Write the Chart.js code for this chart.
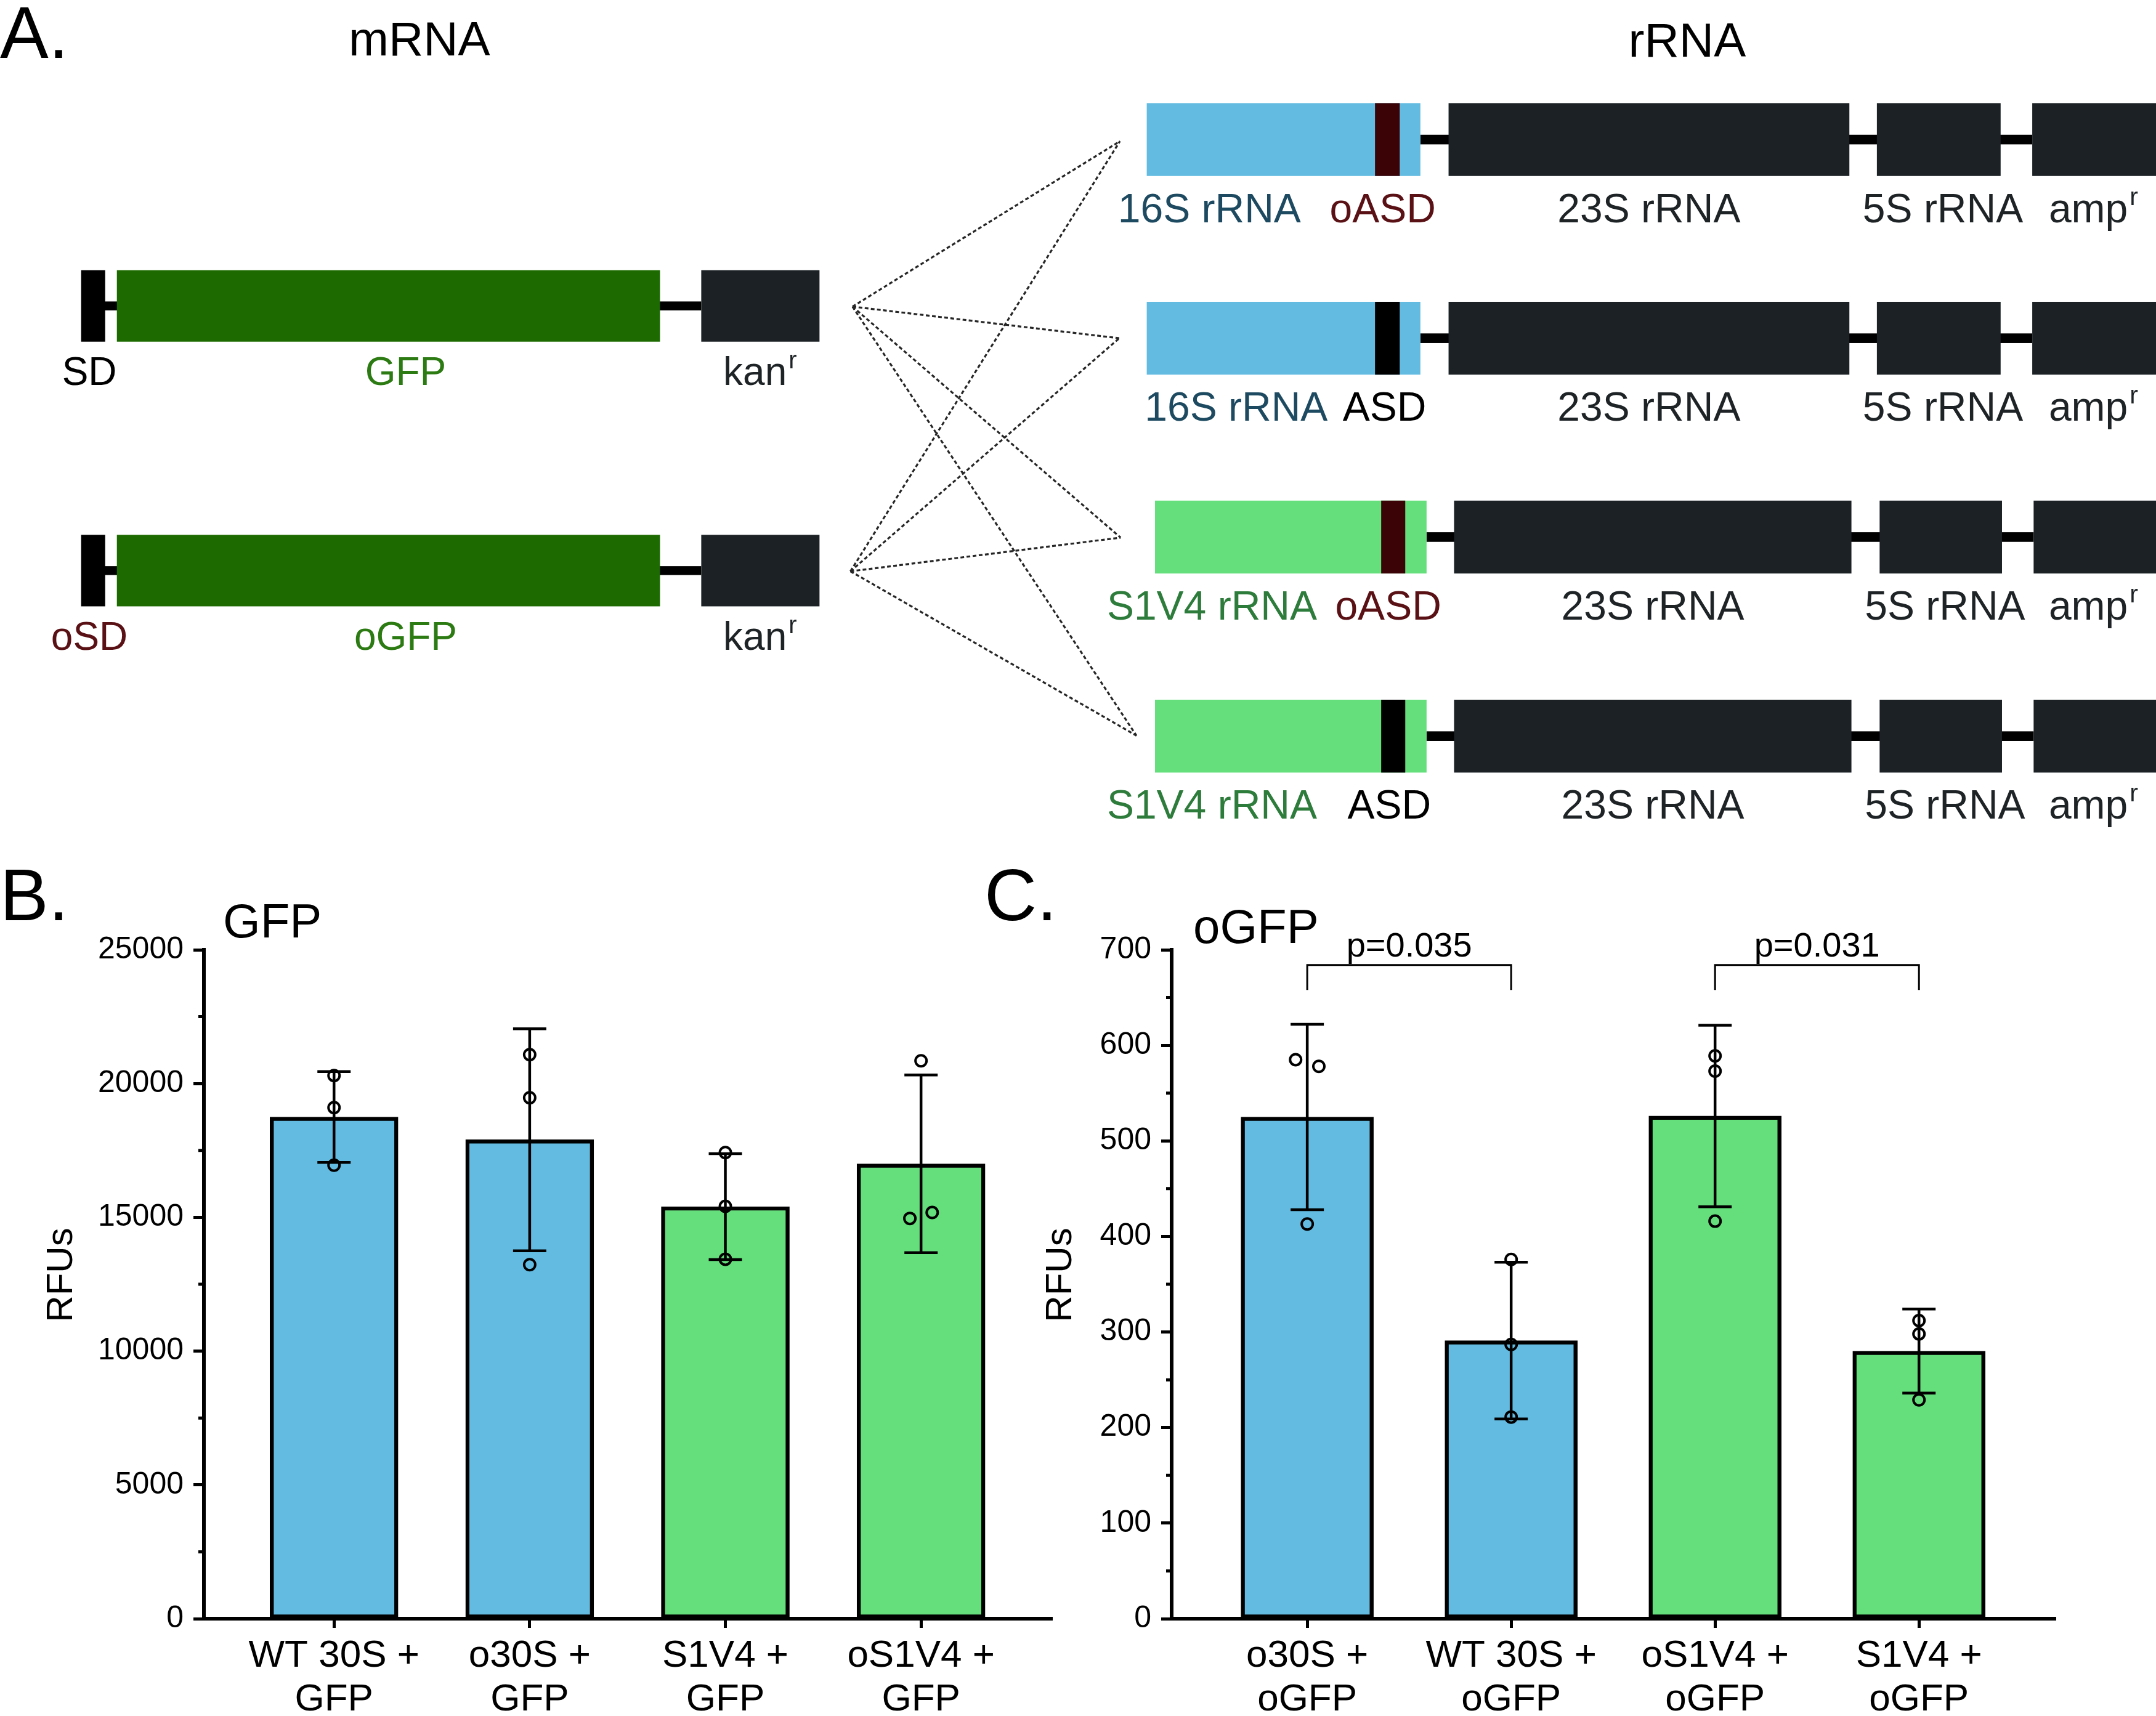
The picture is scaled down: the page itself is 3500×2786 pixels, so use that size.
<!DOCTYPE html>
<html>
<head>
<meta charset="utf-8">
<script src="https://cdn.jsdelivr.net/npm/chart.js@4.4.1/dist/chart.umd.min.js"></script>
<style>
	body { margin: 0; background: #fff; }
	#page { position: relative; width: 3500px; height: 2786px; overflow: hidden; background: #fff; }
	canvas { position: absolute; }
</style>
</head>
<body>
<div id="page">
	<canvas id="panelA" width="3500" height="1380" style="left:0px;top:0px"></canvas>
	<canvas id="panelB" width="1750" height="1406" style="left:0px;top:1380px"></canvas>
	<canvas id="panelC" width="1920" height="1406" style="left:1580px;top:1380px"></canvas>
</div>
<script>
const FONT = '"Liberation Sans", Arial, Helvetica, sans-serif';
const BLUE = "#63bbe1";
const GREEN = "#65df7b";
const DARK = "#1b2124";
const LABEL = "#1e2326";
const OXBLOOD = "#5a1115";

// panel A - constructs (diagram units = shrunk figure pixels)
const mrnaY = [222.5, 415];
const mrnaSD = ["SD", "oSD"];
const mrnaSDColor = ["#000000", OXBLOOD];
const mrnaGene = ["GFP", "oGFP"];
const mrnaHub = [[620, 223], [618.5, 415.5]];

const rrnaY = [101.5, 246, 390.6, 535.4];
const rrnaName = ["16S rRNA", "16S rRNA", "S1V4 rRNA", "S1V4 rRNA"];
const rrnaNameColor = ["#1d4a60", "#1d4a60", "#2e7c3c", "#2e7c3c"];
const rrnaFill = [BLUE, BLUE, GREEN, GREEN];
const rrnaAsd = ["oASD", "ASD", "oASD", "ASD"];
const rrnaAsdColor = [OXBLOOD, "#000000", OXBLOOD, "#000000"];
const rrnaBandColor = ["#3c0307", "#000000", "#3c0307", "#000000"];
const rrnaEnd = [[814.5, 102.7], [814, 246], [815, 391], [826.5, 535]];
const rrnaBody = [[834, 1033], [834, 1033], [840, 1037.5], [840, 1037.5]];
const rrnaBand = [[1000, 1018], [1000, 1018], [1004.5, 1022], [1004.5, 1022]];
const rrna23S = [[1053.5, 1345], [1053.5, 1345], [1057.5, 1346.5], [1057.5, 1346.5]];
const rrna5S = [[1365, 1455], [1365, 1455], [1367, 1456], [1367, 1456]];
const rrnaAmp = [[1478, 1570], [1478, 1570], [1479, 1570], [1479, 1570]];
const rrnaNameX = [813, 832.5, 805, 805];
const rrnaAsdX = [967, 976.5, 971, 980];

// panel B - GFP
const categoriesB = [["WT 30S +", "GFP"], ["o30S +", "GFP"], ["S1V4 +", "GFP"], ["oS1V4 +", "GFP"]];
const meansB = [18750, 17900, 15400, 17000];
const sdB = [1700, 4150, 1980, 3320];
const pointsB = [[20300, 19100, 16950], [21080, 19470, 13230], [17420, 15410, 13435], [20850, 14960, 15180]];
const jitterB = [[0, 0, 0], [0, 0, 0], [0, 0, 0], [0, -0.057, 0.057]];
const yTicksB = [0, 5000, 10000, 15000, 20000, 25000];

// panel C - oGFP
const categoriesC = [["o30S +", "oGFP"], ["WT 30S +", "oGFP"], ["oS1V4 +", "oGFP"], ["S1V4 +", "oGFP"]];
const meansC = [525, 291, 526, 280];
const sdC = [97, 82, 95, 44];
const pointsC = [[585, 578, 413], [376, 287, 211], [589, 573, 416], [312, 298, 229]];
const jitterC = [[-0.057, 0.057, 0], [0, 0, 0], [0, 0, 0], [0, 0, 0]];
const yTicksC = [0, 100, 200, 300, 400, 500, 600, 700];
const pairsC = [[0, 1], [2, 3]];
const pLabelsC = ["p=0.035", "p=0.031"];

const barFills = [BLUE, BLUE, GREEN, GREEN];

function supText(ctx, base, sup, x, y, size, color) {
	ctx.font = size + "px " + FONT;
	ctx.fillStyle = color;
	ctx.textAlign = "left";
	ctx.fillText(base, x, y);
	const w = ctx.measureText(base).width;
	ctx.font = Math.round(size * 0.62) + "px " + FONT;
	ctx.fillText(sup, x + w + 3, y - size * 0.42);
}

const diagramPlugin = {
	id: "diagram",
	afterDatasetsDraw(chart) {
		const ctx = chart.ctx;
		const X = v => chart.scales.x.getPixelForValue(v);
		const Y = v => chart.scales.y.getPixelForValue(v);
		function box(x0, x1, yc, h, color) {
			ctx.fillStyle = color;
			ctx.fillRect(X(x0), Y(yc - h / 2), X(x1) - X(x0), Y(yc + h / 2) - Y(yc - h / 2));
		}
		function label(text, x, yb, size, color, align) {
			ctx.font = size + "px " + FONT;
			ctx.fillStyle = color;
			ctx.textAlign = align || "left";
			ctx.textBaseline = "alphabetic";
			ctx.fillText(text, X(x), Y(yb));
		}
		ctx.save();
		label("A.", 0, 42, 118, "#000");
		label("mRNA", 305, 40.5, 78, "#000", "center");
		label("rRNA", 1227, 41, 78, "#000", "center");

		mrnaY.forEach((yc, i) => {
			box(76, 510, yc, 6.5, "#000");
			box(59, 76.5, yc, 52, "#000");
			box(85, 480, yc, 52, "#1c6a00");
			box(510, 596, yc, 52, DARK);
			label(mrnaSD[i], 65, yc + 57.5, 64, mrnaSDColor[i], "center");
			label(mrnaGene[i], 295, yc + 57.5, 64, "#2b7a12", "center");
			supText(ctx, "kan", "r", X(526), Y(yc + 57.5), 64, LABEL);
		});

		rrnaY.forEach((yc, i) => {
			box(rrnaBody[i][1], rrnaAmp[i][0], yc, 7, "#000");
			box(rrnaBody[i][0], rrnaBody[i][1], yc, 53, rrnaFill[i]);
			box(rrnaBand[i][0], rrnaBand[i][1], yc, 53, rrnaBandColor[i]);
			box(rrna23S[i][0], rrna23S[i][1], yc, 53, DARK);
			box(rrna5S[i][0], rrna5S[i][1], yc, 53, DARK);
			box(rrnaAmp[i][0], rrnaAmp[i][1], yc, 53, DARK);
			const yb = yc + 60;
			label(rrnaName[i], rrnaNameX[i], yb, 66, rrnaNameColor[i]);
			label(rrnaAsd[i], rrnaAsdX[i], yb, 66, rrnaAsdColor[i]);
			label("23S rRNA", (rrna23S[i][0] + rrna23S[i][1]) / 2, yb, 66, LABEL, "center");
			label("5S rRNA", (rrna5S[i][0] + rrna5S[i][1]) / 2 + 3, yb, 66, LABEL, "center");
			supText(ctx, "amp", "r", X(1490), Y(yb), 66, LABEL);
		});
		ctx.restore();
	}
};

const hubLines = [];
mrnaHub.forEach(h => rrnaEnd.forEach(e => hubLines.push({
	data: [{ x: h[0], y: h[1] }, { x: e[0], y: e[1] }],
	showLine: true,
	borderColor: "#262626",
	borderWidth: 3.2,
	borderDash: [6, 4],
	pointRadius: 0,
	fill: false
})));

new Chart(document.getElementById("panelA"), {
	type: "scatter",
	data: { datasets: hubLines },
	options: {
		responsive: false,
		animation: false,
		devicePixelRatio: 1,
		events: [],
		layout: { padding: 0 },
		plugins: { legend: { display: false }, tooltip: { enabled: false } },
		scales: {
			x: { type: "linear", min: 0, max: 1568, display: false },
			y: { type: "linear", min: 0, max: 618.2, reverse: true, display: false }
		}
	},
	plugins: [diagramPlugin]
});

function decorPlugin(cfg) {
	return {
		id: "decor",
		afterDatasetDraw(chart, args) {
			if (args.index !== 0) return;
			const { ctx, scales: { x, y } } = chart;
			ctx.save();
			ctx.strokeStyle = "#000";
			ctx.lineWidth = 4.5;
			ctx.beginPath();
			cfg.means.forEach((m, i) => {
				const cx = x.getPixelForValue(i);
				const top = y.getPixelForValue(m + cfg.sd[i]);
				const bot = y.getPixelForValue(m - cfg.sd[i]);
				ctx.moveTo(cx, top);
				ctx.lineTo(cx, bot);
				ctx.moveTo(cx - 27, top);
				ctx.lineTo(cx + 27, top);
				ctx.moveTo(cx - 27, bot);
				ctx.lineTo(cx + 27, bot);
			});
			ctx.stroke();
			ctx.restore();
		},
		afterDraw(chart) {
			const { ctx, chartArea, scales: { x, y } } = chart;
			ctx.save();
			// minor ticks
			ctx.strokeStyle = "#000";
			ctx.lineWidth = 5;
			ctx.beginPath();
			for (let i = 0; i < cfg.yTicks.length - 1; i++) {
				const py = y.getPixelForValue((cfg.yTicks[i] + cfg.yTicks[i + 1]) / 2);
				ctx.moveTo(chartArea.left - 9, py);
				ctx.lineTo(chartArea.left, py);
			}
			ctx.stroke();

			ctx.fillStyle = "#000";
			ctx.textBaseline = "alphabetic";
			ctx.textAlign = "left";
			ctx.font = "118px " + FONT;
			ctx.fillText(cfg.letter, cfg.letterAt[0], cfg.letterAt[1]);
			ctx.font = "78px " + FONT;
			ctx.fillText(cfg.title, cfg.titleAt[0], cfg.titleAt[1]);

			ctx.save();
			ctx.translate(cfg.yTitleAt[0], cfg.yTitleAt[1]);
			ctx.rotate(-Math.PI / 2);
			ctx.textAlign = "center";
			ctx.textBaseline = "middle";
			ctx.font = "60px " + FONT;
			ctx.fillText("RFUs", 0, 0);
			ctx.restore();

			(cfg.pairs || []).forEach((pr, k) => {
				const x0 = x.getPixelForValue(pr[0]);
				const x1 = x.getPixelForValue(pr[1]);
				const yTop = y.getPixelForValue(684);
				const yLeg = y.getPixelForValue(658);
				ctx.lineWidth = 3;
				ctx.beginPath();
				ctx.moveTo(x0, yLeg);
				ctx.lineTo(x0, yTop);
				ctx.lineTo(x1, yTop);
				ctx.lineTo(x1, yLeg);
				ctx.stroke();
				ctx.font = "56px " + FONT;
				ctx.textAlign = "center";
				ctx.fillText(cfg.pLabels[k], (x0 + x1) / 2, y.getPixelForValue(693));
			});
			ctx.restore();
		}
	};
}

function barChart(id, cfg) {
	const scatter = [];
	cfg.points.forEach((row, i) => row.forEach((v, j) => scatter.push({ x: i + cfg.jitter[i][j], y: v })));
	return new Chart(document.getElementById(id), {
		type: "bar",
		data: {
			datasets: [{
				type: "bar",
				data: cfg.means.map((v, i) => ({ x: i, y: v })),
				backgroundColor: barFills,
				borderColor: "#000",
				borderWidth: 6.5,
				borderSkipped: false,
				barThickness: cfg.barWidth,
				order: 2
			}, {
				type: "scatter",
				data: scatter,
				pointRadius: 9,
				pointBorderWidth: 4,
				pointBorderColor: "#000",
				pointBackgroundColor: "rgba(0,0,0,0)",
				order: 1
			}]
		},
		options: {
			responsive: false,
			animation: false,
			devicePixelRatio: 1,
			events: [],
			layout: { padding: { left: 0, top: 162, right: cfg.padRight, bottom: 0 } },
			plugins: { legend: { display: false }, tooltip: { enabled: false } },
			scales: {
				x: {
					type: "linear",
					min: -0.665,
					max: 3.67,
					offset: false,
					afterBuildTicks: s => { s.ticks = cfg.categories.map((c, i) => ({ value: i })); },
					afterFit: s => { s.height = 158; },
					grid: { display: true, offset: false, drawOnChartArea: false, drawTicks: true, tickLength: 15, tickWidth: 5, tickColor: "#000" },
					border: { display: true, width: 6, color: "#000" },
					ticks: {
						callback: v => cfg.categories[v],
						font: { family: FONT, size: 62, lineHeight: 1.15 },
						color: "#000",
						padding: 10,
						maxRotation: 0,
						minRotation: 0,
						autoSkip: false
					}
				},
				y: {
					type: "linear",
					min: 0,
					max: cfg.yTicks[cfg.yTicks.length - 1],
					afterBuildTicks: s => { s.ticks = cfg.yTicks.map(v => ({ value: v })); },
					afterFit: s => { s.width = cfg.axisLeft; },
					grid: { display: true, drawOnChartArea: false, drawTicks: true, tickLength: 17, tickWidth: 5, tickColor: "#000" },
					border: { display: true, width: 6, color: "#000" },
					ticks: {
						callback: v => String(v),
						font: { family: FONT, size: 50 },
						color: "#000",
						padding: 16,
						autoSkip: false
					}
				}
			}
		},
		plugins: [decorPlugin(cfg)]
	});
}

barChart("panelB", {
	categories: categoriesB, means: meansB, sd: sdB, points: pointsB, jitter: jitterB, yTicks: yTicksB,
	barWidth: 208, axisLeft: 331, padRight: 42,
	letter: "B.", letterAt: [0, 114], title: "GFP", titleAt: [362, 142], yTitleAt: [100, 690]
});

barChart("panelC", {
	categories: categoriesC, means: meansC, sd: sdC, points: pointsC, jitter: jitterC, yTicks: yTicksC,
	barWidth: 215, axisLeft: 322, padRight: 163,
	letter: "C.", letterAt: [18, 114], title: "oGFP", titleAt: [357, 151], yTitleAt: [142, 690],
	pairs: pairsC, pLabels: pLabelsC
});
</script>
</body>
</html>
